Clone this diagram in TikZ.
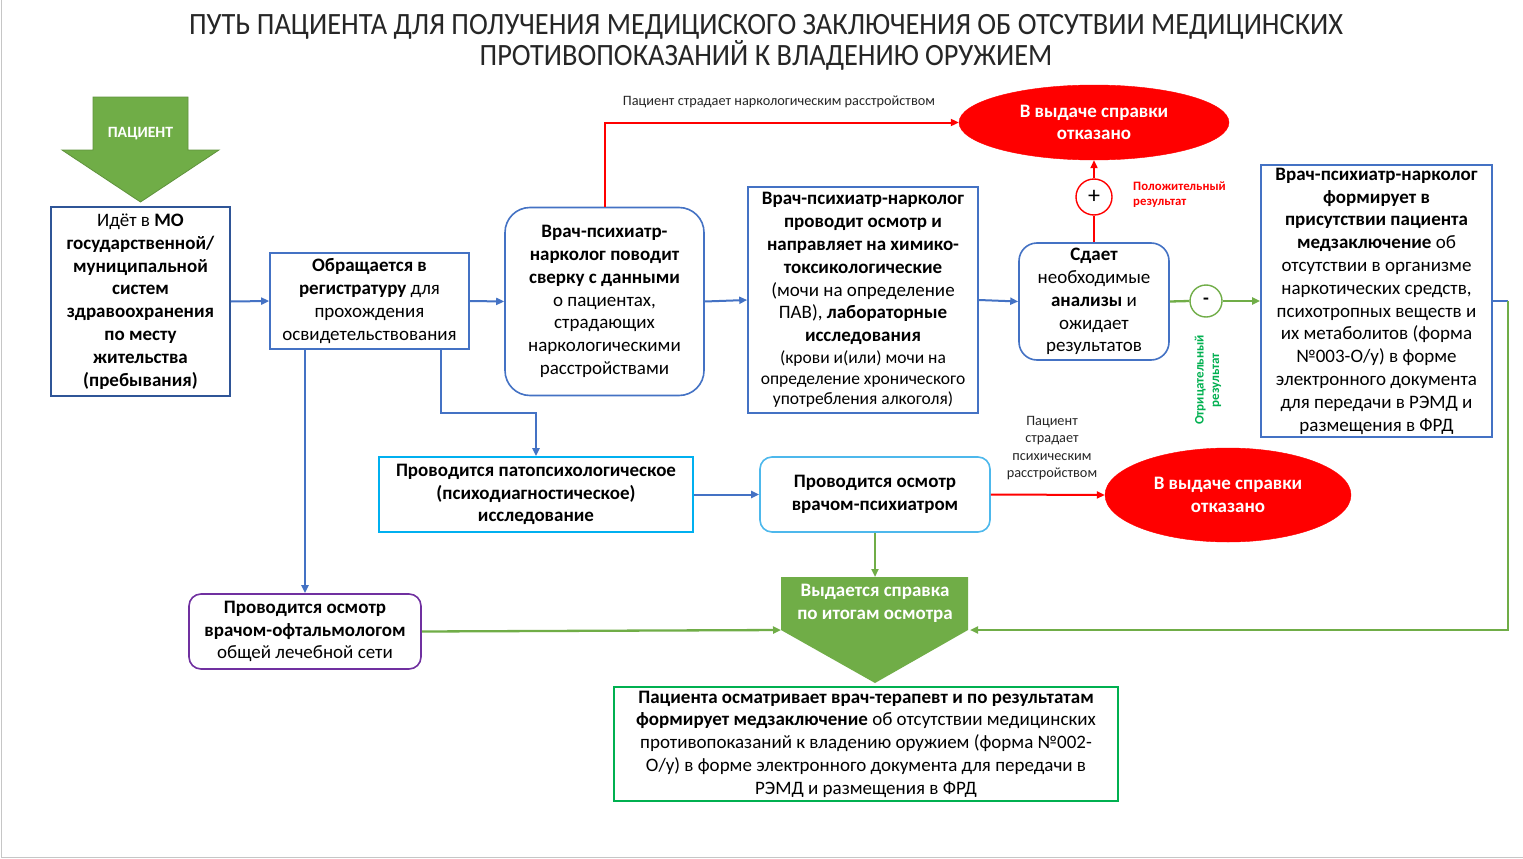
\documentclass[tikz,border=0pt]{standalone}
\usepackage{fontspec}
\setmainfont{Carlito}
\usetikzlibrary{arrows.meta,shapes.geometric,calc}
\definecolor{blu}{HTML}{4472C4}
\definecolor{dkblu}{HTML}{2F5597}
\definecolor{cyn}{HTML}{00B0F0}
\definecolor{cyn2}{HTML}{4DB8EC}
\definecolor{rd}{HTML}{FF0000}
\definecolor{grn}{HTML}{70AD47}
\definecolor{grn2}{HTML}{00B050}
\definecolor{prp}{HTML}{7030A0}
\tikzset{
  boxbase/.style={rectangle, align=center, inner sep=0pt, line width=1.6pt, text=black,
    font=\fontsize{19}{22.8}\selectfont},
  bbox/.style={boxbase, draw=blu},
  ell/.style={ellipse, fill=rd, draw=rd, text=white, align=center, inner sep=0pt,
    font=\bfseries\fontsize{19}{22.8}\selectfont},
  tip/.style={-{Triangle[length=8pt,width=7pt]}},
  bline/.style={draw=blu, line width=2pt},
  rline/.style={draw=rd, line width=2pt},
  gline/.style={draw=grn, line width=2.3pt},
  smalllab/.style={align=center, inner sep=0pt, font=\fontsize{14.3}{17.3}\selectfont},
}
\begin{document}
\begin{tikzpicture}[x=1pt,y=-1pt]
\useasboundingbox (0,0) rectangle (1523,859);
\fill[white] (0,0) rectangle (1523,859);
\draw[gray!45, line width=1pt] (1.5,0) -- (1.5,857.5) -- (1523,857.5);

% title
\node[align=center, inner sep=0pt, font=\fontsize{31}{31}\selectfont, text=black!85] (title) at (766,42)
  {\scalebox{0.915}[1]{ПУТЬ ПАЦИЕНТА ДЛЯ ПОЛУЧЕНИЯ МЕДИЦИСКОГО ЗАКЛЮЧЕНИЯ ОБ ОТСУТВИИ МЕДИЦИНСКИХ}\\
   \scalebox{0.915}[1]{ПРОТИВОПОКАЗАНИЙ К ВЛАДЕНИЮ ОРУЖИЕМ}};

% patient arrow
\draw[fill=grn, draw=grn!85!black, line width=0.8pt] (93,97) -- (188,97) -- (188,150) -- (219,150) -- (140.5,202) -- (62,150) -- (93,150) -- cycle;
\node[text=white, inner sep=0pt, font=\bfseries\fontsize{15.7}{17}\selectfont] (pac) at (140.5,134) {ПАЦИЕНТ};

% boxes
\node[boxbase, draw=dkblu, minimum width=179pt, minimum height=189pt] (b1) at (140.5,301.5)
  {Идёт в \textbf{МО}\\ \textbf{государственной/}\\ \textbf{муниципальной}\\ \textbf{систем}\\ \textbf{здравоохранения}\\ \textbf{по месту}\\ \textbf{жительства}\\ \textbf{(пребывания)}};
\node[bbox, minimum width=199pt, minimum height=96pt] (b2) at (369.5,301)
  {\textbf{Обращается в}\\ \textbf{регистратуру} для\\ прохождения\\ освидетельствования};
\node[bbox, rounded corners=25pt, minimum width=199pt, minimum height=188pt] (b3) at (604.5,301.5)
  {\textbf{Врач-психиатр-}\\ \textbf{нарколог поводит}\\ \textbf{сверку с данными}\\ о пациентах,\\ страдающих\\ наркологическими\\ расстройствами};
\node[bbox, minimum width=230pt, minimum height=226pt] (b4) at (863,300)
  {\textbf{Врач-психиатр-нарколог}\\ \textbf{проводит осмотр и}\\ \textbf{направляет на химико-}\\ \textbf{токсикологические}\\ (мочи на определение\\ ПАВ), \textbf{лабораторные}\\ \textbf{исследования}\\[-1pt]
   {\fontsize{17.5}{20.5}\selectfont (крови и(или) мочи на}\\[-2.3pt] {\fontsize{17.5}{20.5}\selectfont определение хронического}\\[-2.3pt] {\fontsize{17.5}{20.5}\selectfont употребления алкоголя)}};
\node[bbox, rounded corners=18pt, minimum width=150pt, minimum height=117pt] (b5) at (1094,301.5)
  {\textbf{Сдает}\\ необходимые\\ \textbf{анализы} и\\ ожидает\\ результатов};
\node[bbox, minimum width=231pt, minimum height=272pt] (b6) at (1376.5,301)
  {\textbf{Врач-психиатр-нарколог}\\ \textbf{формирует в}\\ \textbf{присутствии пациента}\\ \textbf{медзаключение} об\\ отсутствии в организме\\ наркотических средств,\\ психотропных веществ и\\ их метаболитов (форма\\ №003-О/у) в форме\\ электронного документа\\ для передачи в РЭМД и\\ размещения в ФРД};
\node[boxbase, draw=cyn, minimum width=314pt, minimum height=75pt, font=\bfseries\fontsize{19}{22.8}\selectfont] (b7) at (536,494.5)
  {Проводится патопсихологическое\\ (психодиагностическое)\\ исследование};
\node[boxbase, draw=cyn2, rounded corners=12pt, minimum width=230pt, minimum height=75pt, font=\bfseries\fontsize{19}{22.8}\selectfont] (b8) at (875,494.5)
  {Проводится осмотр\\ врачом-психиатром};
\node[boxbase, draw=prp, rounded corners=12pt, minimum width=232pt, minimum height=75pt] (oph) at (305,631.5)
  {\textbf{Проводится осмотр}\\ \textbf{врачом-офтальмологом}\\ общей лечебной сети};
\node[boxbase, draw=grn2, minimum width=504pt, minimum height=114pt] (fin) at (866,744)
  {\textbf{Пациента осматривает врач-терапевт и по результатам}\\ \textbf{формирует медзаключение} об отсутствии медицинских\\ противопоказаний к владению оружием (форма №002-\\ О/у) в форме электронного документа для передачи в\\ РЭМД и размещения в ФРД};

% refusals
\node[ell, minimum width=270pt, minimum height=75pt] (e1) at (1094,122.5) {В выдаче справки\\ отказано};
\node[ell, minimum width=246pt, minimum height=94pt] (e2) at (1228,495) {В выдаче справки\\ отказано};

% result circles
\node[circle, draw=rd, fill=white, line width=1.4pt, minimum size=36pt, inner sep=0pt, font=\fontsize{24}{24}\selectfont] (plus) at (1094,197) {+};
\node[circle, draw=grn, fill=white, line width=1.4pt, minimum size=32pt, inner sep=0pt, font=\bfseries\fontsize{19}{19}\selectfont] (minus) at (1206,301) {-};

% green issuing arrow
\fill[grn] (781,577) -- (968,577) -- (968,630) -- (875,683) -- (781,630) -- cycle;
\coordinate (gT) at (875,577);
\coordinate (gL) at (781,630);
\coordinate (gR) at (970,630);
\node[text=white, align=center, inner sep=0pt, font=\bfseries\fontsize{19}{22.8}\selectfont] (gtxt) at (875,603.5) {Выдается справка\\ по итогам осмотра};

% labels
\node[smalllab, text=black!85] (lab1) at (779,102) {Пациент страдает наркологическим расстройством};
\node[smalllab, text=black!85] (lab2) at (1052,448) {Пациент\\ страдает\\ психическим\\ расстройством};
\node[anchor=west, align=left, inner sep=0pt, text=rd, font=\bfseries\fontsize{12.8}{15}\selectfont] (lab3) at (1133,194.5) {Положительный\\ результат};
\node[rotate=90, align=center, inner sep=0pt, text=grn2, font=\bfseries\fontsize{13}{15.5}\selectfont] (lab4) at (1208,380) {Отрицательный\\ результат};

% connectors
\coordinate (k1) at (441,413);
\coordinate (rt) at (1508,301);
\draw[bline, tip] (b1.east) -- (b2.west);
\draw[bline, tip] (b2.east) -- (b3.west);
\draw[bline, tip] (b3.east) -- (b4.west);
\draw[bline, tip] (b4.east) -- (b5.west);
\draw[rline, tip] (b3.north) |- (e1.west);
\draw[rline] (b5.north) -- (plus.south);
\draw[rline, tip] (plus.north) -- (e1.south);
\draw[gline] (b5.east) -- (minus.west);
\draw[gline, tip] (minus.east) -- (b6.west);
\draw[bline] (b6.east) -- (rt);
\draw[gline, tip] (rt) |- (gR);
\draw[bline, tip] (b2.south -| k1) -- (k1) -| (b7.north);
\draw[bline, tip] (b2.south -| oph.north) -- (oph.north);
\draw[bline, tip] (b7.east) -- (b8.west);
\draw[rline, tip] (b8.east) -- (e2.west);
\draw[gline, tip] (b8.south) -- (gT);
\draw[gline, tip] (oph.east) -- (gL);
\end{tikzpicture}
\end{document}
